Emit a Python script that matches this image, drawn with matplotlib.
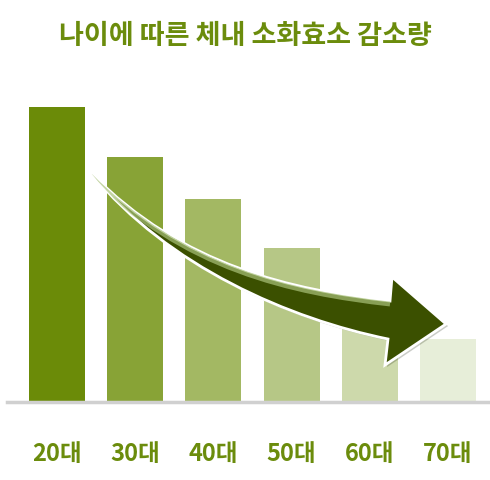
import matplotlib
matplotlib.use("Agg")
import matplotlib.pyplot as plt
from matplotlib.path import Path
from matplotlib.patches import PathPatch
from matplotlib.transforms import Affine2D
import matplotlib.patheffects as pe

plt.rcParams['font.family'] = ['Noto Sans CJK KR', 'DejaVu Sans']

title = "나이에 따른 체내 소화효소 감소량"
categories = ["20대", "30대", "40대", "50대", "60대", "70대"]
values = [295, 245, 203, 154, 100, 63]
colors = ['#6b8b08', '#88a336', '#a3b863', '#b6c786', '#cdd9ab', '#e7eed9']
text_color = '#6b8c0c'

W, H = 490, 481
fig = plt.figure(figsize=(W / 100, H / 100), dpi=100)
fig.patch.set_facecolor('white')

ax = fig.add_axes([7 / W, (H - 403) / H, (W - 7) / W, 340 / H])
x = list(range(len(categories)))
ax.bar(x, values, width=0.716, color=colors, zorder=2)
ax.set_xlim(-0.639, 5.537)
ax.set_ylim(0, 340)
for s in ['top', 'right', 'left']:
    ax.spines[s].set_visible(False)
ax.spines['bottom'].set_color('#d0d0d0')
ax.spines['bottom'].set_linewidth(2.5)
ax.spines['bottom'].set_zorder(3)
ax.set_yticks([])
ax.set_xticks(x)
ax.set_xticklabels(categories, fontsize=17, color=text_color, fontweight='bold')
ax.tick_params(axis='x', length=0, pad=28)

fig.text(0.5, 1 - 36 / H, title, ha='center', va='center',
         fontsize=19.5, color=text_color, fontweight='bold')

# ---- decorative curved arrow (image pixel coordinates, top-left origin) ----
pix = Affine2D().scale(1 / W, -1 / H).translate(0, 1) + fig.transFigure

tail = (91, 174)
upper_ctrl = [(182, 267), (292, 291), (390, 302)]
head = [(392, 278), (446, 325), (385, 366), (388, 340)]
lower_ctrl = [(290, 320), (168, 268), tail]

verts = [tail] + upper_ctrl + head + lower_ctrl + [tail]
codes = ([Path.MOVETO] + [Path.CURVE4] * 3 + [Path.LINETO] * 4
         + [Path.CURVE4] * 3 + [Path.CLOSEPOLY])
arrow = PathPatch(Path(verts, codes), facecolor='#3b5000', edgecolor='white',
                  linewidth=2.0, joinstyle='miter', transform=pix, zorder=5)
arrow.set_path_effects([pe.SimplePatchShadow(offset=(1.5, -1.5), alpha=0.22),
                        pe.Normal()])
fig.add_artist(arrow)

# light highlight band along the upper edge (clipped to the arrow)
hv = [(91, 176), (182, 270), (292, 294), (390, 305)]
strip = PathPatch(Path(hv, [Path.MOVETO] + [Path.CURVE4] * 3),
                  facecolor='none', edgecolor='#a9c27a', linewidth=3.5,
                  alpha=0.7, transform=pix, zorder=6)
fig.add_artist(strip)
strip.set_clip_path(arrow.get_path(), pix)

fig.savefig('out.png', dpi=100, facecolor='white')
